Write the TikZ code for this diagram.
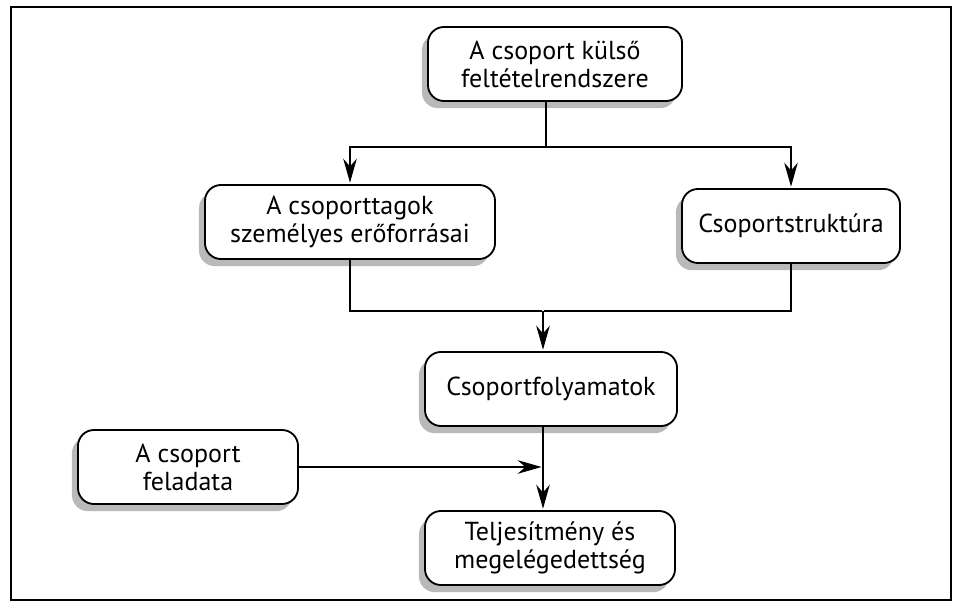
\documentclass[tikz,border=0pt]{standalone}
\usepackage{fontspec}
\setmainfont{PT Sans}
\usetikzlibrary{shadows,arrows.meta}

\begin{document}
\begin{tikzpicture}[x=0.025cm,y=-0.025cm,-,>={Stealth[length=6mm,width=3.4mm]},shorten >=1pt,line width=0.8pt,
  main node/.style={draw,rounded corners=0.4cm,line width=1.3pt,fill=white,align=center,minimum height=1.85cm,inner sep=2pt,font=\fontsize{18.5}{20}\selectfont,
    drop shadow={shadow xshift=-0.15cm,shadow yshift=-0.18cm,fill=gray!55,opacity=1}}]

            \useasboundingbox (0,0) rectangle (960,609);
            \draw[line width=1.2pt] (11,7) rectangle (951,600);

            \node[main node, minimum width=6.35cm] (1) at (555,64) {A csoport külső\\feltételrendszere};
            \node[main node, minimum width=7.25cm] (2) at (350,222) {A csoporttagok\\személyes erőforrásai};
            \node[main node, minimum width=5.45cm] (3) at (791,226) {Csoportstruktúra};
            \node[main node, minimum width=6.3cm] (4) at (551,389) {Csoportfolyamatok};
            \node[main node, minimum width=6.25cm] (5) at (550,548) {Teljesítmény és\\megelégedettség};
            \node[main node, minimum width=5.5cm] (6) at (188,467) {A csoport\\feladata};

            \coordinate (s) at (546,147);
            \coordinate (m) at (543,311);

            \draw[-] (s |- 1.south) to (s);
            \draw[->] (s) -| (2.north);
            \draw[->] (s) -| (3.north);
            \draw[-] (2.south) |- (m);
            \draw[-] (3.south) |- (m);
            \draw[->] (m) to (m |- 4.north);
            \draw[->] (m |- 4.south) to (m |- 5.north);
            \draw[->] (6.east) to (6.east -| m);

        \end{tikzpicture}
\end{document}
